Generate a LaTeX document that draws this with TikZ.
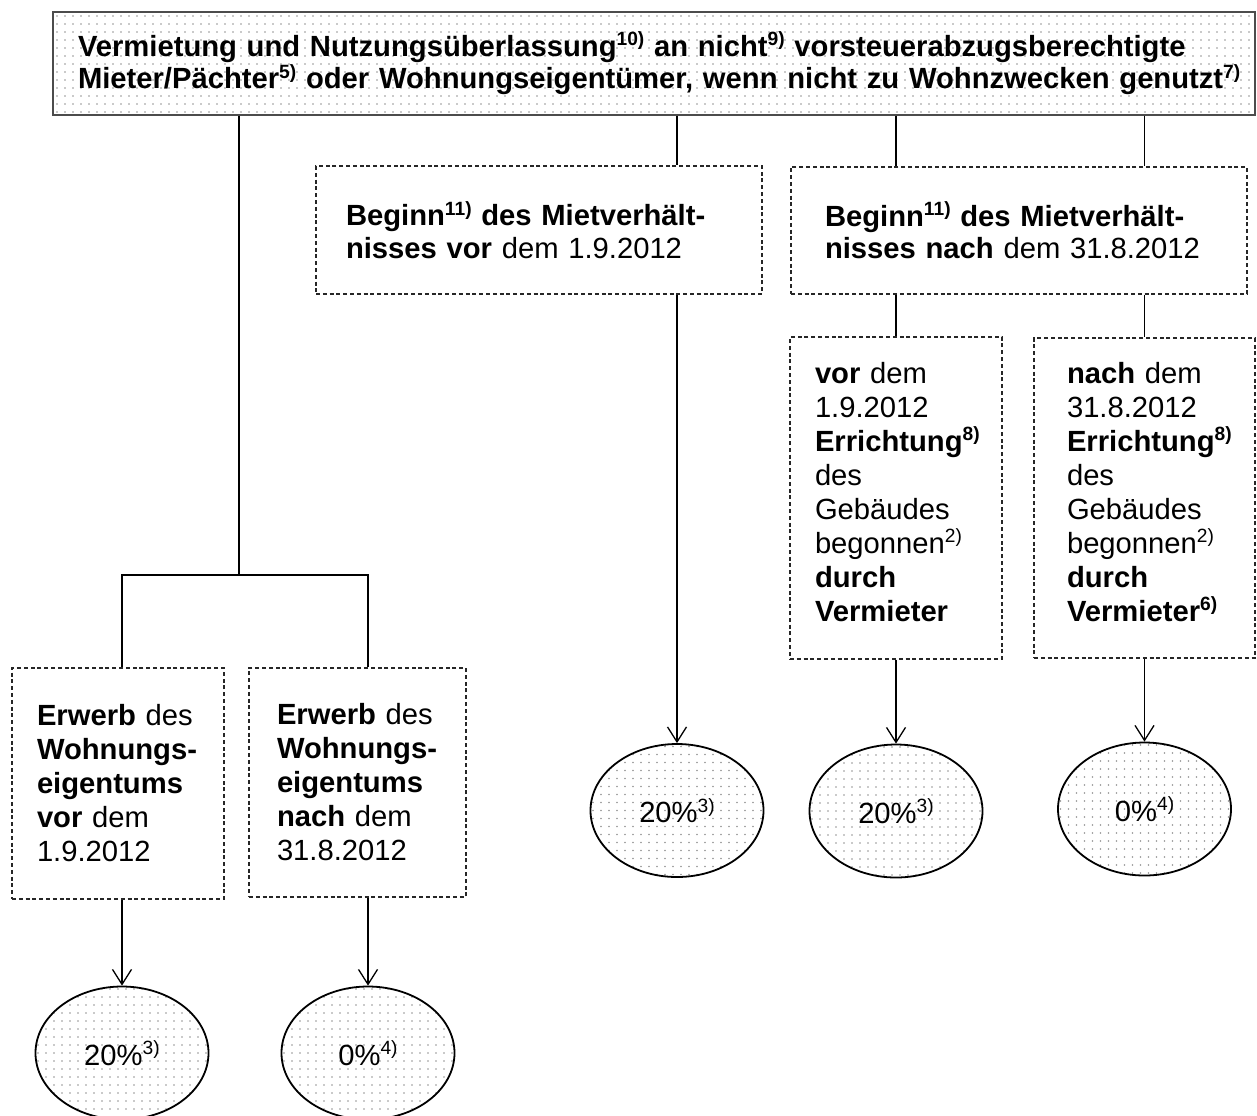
\documentclass[tikz,border=0pt]{standalone}
\usepackage{fontspec}
\setmainfont{Liberation Sans}
\usetikzlibrary{arrows.meta,shapes.geometric}
\pgfdeclarelayer{background}
\pgfsetlayers{background,main}
\hyphenpenalty=10000
\exhyphenpenalty=10000
\newcommand{\sups}[1]{\raisebox{0.36em}{\fontsize{9.6}{9.6}\selectfont #1}}
% grid of small dots: #1,#2 = first dot (px), #3,#4 = number of columns, rows
\newcommand{\dotgrid}[4]{%
  \foreach \ii in {0,...,#3}{\foreach \jj in {0,...,#4}{%
    \fill[dotcolour] (#1+8*\ii,#2+8*\jj) circle (0.45pt);}}}
\tikzset{
  dotcolour/.style={fill=gray!85},
  basefont/.style={font=\fontsize{14.6}{17}\selectfont},
  tightfont/.style={font=\fontsize{14.6}{16.2}\selectfont},
  topbox/.style={draw=gray!60!black, line width=0.7pt,
    rectangle, align=left, inner ysep=0pt, tightfont},
  dbox/.style={draw=black!85, line width=0.6pt, dash pattern=on 2pt off 1.4pt,
    rectangle, align=left, inner ysep=0pt},
  oval/.style={ellipse, draw, line width=0.9pt,
    minimum width=86.5pt, minimum height=66.5pt, inner sep=0pt, basefont},
  conn/.style={line width=0.75pt},
  heavyconn/.style={line width=1.1pt},
  arr/.style={line width=0.65pt, -{Straight Barb[length=7.5pt,width=9.5pt,line width=0.65pt]}}
}
\begin{document}
\begin{tikzpicture}[x=0.5pt,y=-0.5pt]
\useasboundingbox (0,0) rectangle (1257,1115);

% top box
\node[topbox, minimum height=51.5pt, inner xsep=12.5pt, text width=576pt] (t) at (654,63.5)
 {\bfseries \mbox{Vermietung und Nutzungsüberlassung\sups{10)} an nicht\sups{9)} vorsteuerabzugsberechtigte}\\
  \mbox{Mieter/Pächter\sups{5)} oder Wohnungseigentümer, wenn nicht zu Wohnzwecken genutzt\sups{7)}}};

% Beginn boxes
\node[dbox, tightfont, minimum height=64pt, inner xsep=15pt, text width=193pt] (bv) at (539,230)
 {\textbf{Beginn\sups{11)} des Mietverhält-}\\ \textbf{nisses vor} dem 1.9.2012};
\node[dbox, tightfont, minimum height=63.5pt, inner xsep=17pt, text width=194pt] (bn) at (1019,230.5)
 {\textbf{Beginn\sups{11)} des Mietverhält-}\\ \textbf{nisses nach} dem 31.8.2012};

% Errichtung boxes
\node[dbox, basefont, minimum height=161pt, inner xsep=12.5pt, text width=81pt] (ve) at (896,498)
 {\textbf{vor} dem\\ 1.9.2012\\ \textbf{Errichtung\sups{8)}}\\ des\\ Gebäudes\\ begonnen\sups{2)}\\ \textbf{durch}\\ \textbf{Vermieter}\par\kern6pt};
\node[dbox, basefont, minimum height=160pt, inner xsep=16.5pt, text width=77.5pt] (ne) at (1144.5,498)
 {\textbf{nach} dem\\ 31.8.2012\\ \textbf{Errichtung\sups{8)}}\\ des\\ Gebäudes\\ begonnen\sups{2)}\\ \textbf{durch}\\ \textbf{Vermieter\sups{6)}}\par\kern6pt};

% Erwerb boxes
\node[dbox, basefont, minimum height=115.5pt, inner xsep=12.5pt, text width=81pt] (a) at (118,783.5)
 {\textbf{Erwerb} des\\ \textbf{Wohnungs-}\\ \textbf{eigentums}\\ \textbf{vor} dem\\ 1.9.2012};
\node[dbox, basefont, minimum height=114.5pt, inner xsep=14pt, text width=80.5pt] (b) at (357.5,782.5)
 {\textbf{Erwerb} des\\ \textbf{Wohnungs-}\\ \textbf{eigentums}\\ \textbf{nach} dem\\ 31.8.2012};

% result ellipses
\node[oval] (e1) at (677,810.5) {20\%\sups{3)}};
\node[oval] (e2) at (896,811) {20\%\sups{3)}};
\node[oval] (e3) at (1144.5,809) {0\%\sups{4)}};
\node[oval] (ea) at (122,1053) {20\%\sups{3)}};
\node[oval] (eb) at (368,1053) {0\%\sups{4)}};

% dotted fills behind the text
\begin{pgfonlayer}{background}
  \begin{scope}
    \clip (t.north west) rectangle (t.south east);
    \dotgrid{57}{16}{150}{12}
  \end{scope}
  \foreach \en/\ex/\ey in {e1/677/810.5, e2/896/811, e3/1144.5/809, ea/122/1053, eb/368/1053}{
    \begin{scope}
      \clip (\en.center) ellipse [x radius=43.25pt, y radius=33.25pt];
      \dotgrid{\ex-84}{\ey-64}{21}{16}
    \end{scope}
  }
\end{pgfonlayer}

% junction of the left branch
\coordinate (j) at (239,575);
\coordinate (ja) at (122,575);
\coordinate (jb) at (368,575);

% connectors
\draw[heavyconn] (t.south -| j) -- (j);
\draw[heavyconn] (ja |- a.north) -- (ja) -- (jb) -- (jb |- b.north);
\draw[conn] (t.south -| e1) -- (bv.north -| e1);
\draw[conn] (t.south -| ve) -- (bn.north -| ve);
\draw[conn] (t.south -| ne) -- (bn.north -| ne);
\draw[conn] (bn.south -| ve) -- (ve.north);
\draw[conn] (bn.south -| ne) -- (ne.north);

\draw[arr] (bv.south -| e1) -- (e1.north);
\draw[arr] (ve.south -| e2) -- (e2.north);
\draw[arr] (ne.south -| e3) -- (e3.north);
\draw[arr] (a.south -| ea) -- (ea.north);
\draw[arr] (b.south -| eb) -- (eb.north);
\end{tikzpicture}
\end{document}
